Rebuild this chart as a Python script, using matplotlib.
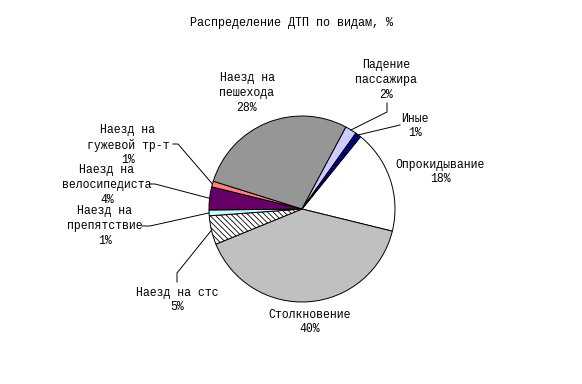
import matplotlib.pyplot as plt
import numpy as np

# data
labels = ['Опрокидывание', 'Столкновение', 'Наезд на стс', 'Наезд на\nпрепятствие',
          'Наезд на\nвелосипедиста', 'Наезд на\nгужевой тр-т', 'Наезд на\nпешехода',
          'Падение\nпассажира', 'Иные']
values = [18, 40, 5, 1, 4, 1, 28, 2, 1]
colors = ['#FFFFFF', '#C0C0C0', '#FFFFFF', '#CCFFFF', '#660066',
          '#FF8080', '#969696', '#CCCCFF', '#000080']
hatches = [None, None, '\\\\\\\\\\\\', None, None, None, None, None, None]

# layout in pixels (pie centre at 302,209, radius 93)
CX, CY, R = 302, 209, 93
W, H = 582, 384
text_pos = [(440, 172), (310, 322), (177, 300), (105, 226), (107, 185),
            (128, 145), (247, 93), (386, 80), (415, 126)]
leaders = [None, None, [(177, 282), (177, 273)], [(142, 226), (150, 226)],
           [(150, 184), (155, 184)], [(173, 144), (178, 144)], None,
           [(387, 103), (387, 112)], [(400, 125)]]


def px(x, y):
    return (x - CX) / R, (CY - y) / R


plt.rcParams['font.family'] = ['Liberation Mono', 'DejaVu Sans']
plt.rcParams['hatch.linewidth'] = 0.6

fig = plt.figure(figsize=(W / 100, H / 100), dpi=100)
ax = fig.add_axes([0, 0, 1, 1])

wedges, _ = ax.pie(values, colors=colors, startangle=51, counterclock=False,
                   radius=1, center=(0, 0),
                   wedgeprops=dict(edgecolor='black', linewidth=0.7))
for w, h in zip(wedges, hatches):
    if h:
        w.set_hatch(h)

for w, lab, v, pos, lead in zip(wedges, labels, values, text_pos, leaders):
    tx, ty = px(*pos)
    ax.text(tx, ty, f'{lab}\n{v}%', ha='center', va='center', fontsize=8.3,
            linespacing=1.3)
    if lead:
        mid = np.deg2rad((w.theta1 + w.theta2) / 2)
        pts = [px(*p) for p in lead] + [(np.cos(mid), np.sin(mid))]
        xs, ys = zip(*pts)
        ax.plot(xs, ys, color='black', linewidth=0.7)

ax.text(*px(291, 23), 'Распределение ДТП по видам, %', ha='center', va='center',
        fontsize=8.5)

x0, y0 = px(0, H)
x1, y1 = px(W, 0)
ax.set_xlim(x0, x1)
ax.set_ylim(y0, y1)
ax.set_aspect('auto')
ax.axis('off')

fig.savefig('out.png', dpi=100)
